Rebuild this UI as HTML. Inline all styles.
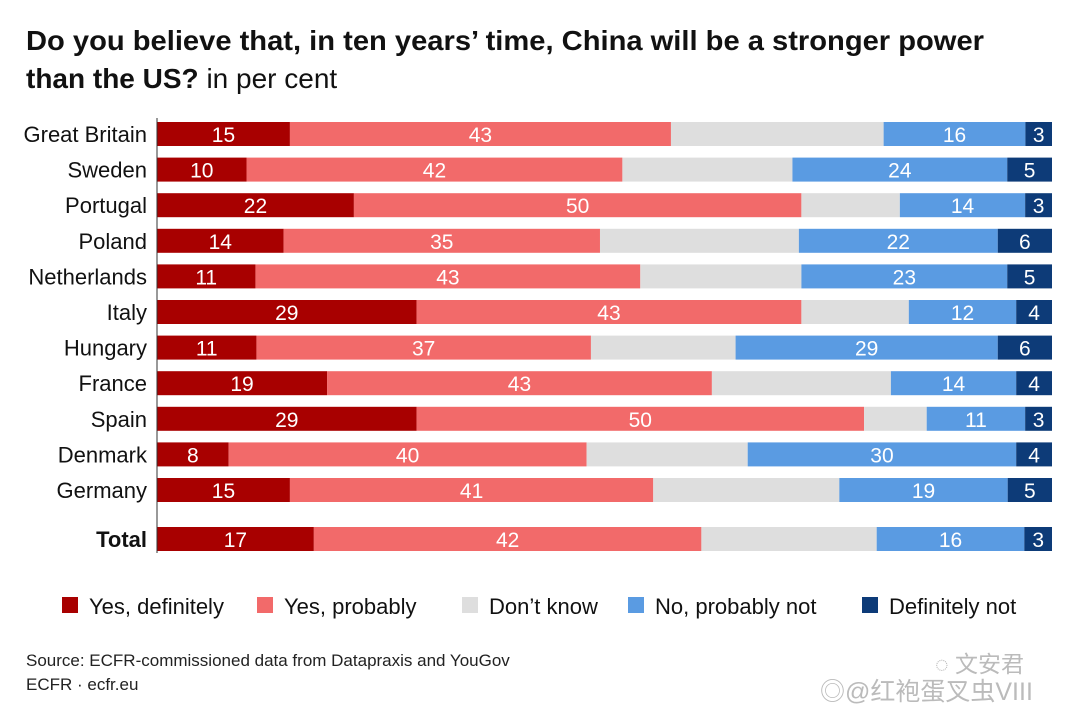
<!DOCTYPE html>
<html><head><meta charset="utf-8"><style>
body{margin:0;background:#fff;width:1080px;height:715px;overflow:hidden;font-family:"Liberation Sans",sans-serif}
svg text{font-family:"Liberation Sans","Noto Sans CJK SC",sans-serif}
</style></head><body>
<svg id="chart" width="1080" height="715" xmlns="http://www.w3.org/2000/svg">
<text x="26" y="50" font-size="28" font-weight="bold" fill="#111" textLength="958" lengthAdjust="spacingAndGlyphs">Do you believe that, in ten years’ time, China will be a stronger power</text>
<text x="26" y="88" font-size="28" fill="#111"><tspan font-weight="bold">than the US?</tspan> in per cent</text>
<g id="bars"></g>
<line x1="157" y1="118" x2="157" y2="553" stroke="#333" stroke-width="1"/>
<g id="legend"></g>
<text x="26" y="666" font-size="17" fill="#222">Source: ECFR-commissioned data from Datapraxis and YouGov</text>
<text x="26" y="690" font-size="17" fill="#222">ECFR · ecfr.eu</text>
<text x="820" y="700" font-size="25" fill="#bbb">◎@红袍蛋叉虫VIII</text>
<text x="935" y="672" font-size="23" fill="#bbb">◌ 文安君</text>
</svg>
<script>
const countries=["Great Britain","Sweden","Portugal","Poland","Netherlands","Italy","Hungary","France","Spain","Denmark","Germany","Total"];
const yesDef=[15,10,22,14,11,29,11,19,29,8,15,17];
const yesProb=[43,42,50,35,43,43,37,43,50,40,41,42];
const dontKnow=[24,19,11,22,18,12,16,20,7,18,21,19];
const noProb=[16,24,14,22,23,12,29,14,11,30,19,16];
const defNot=[3,5,3,6,5,4,6,4,3,4,5,3];
const seriesNames=["Yes, definitely","Yes, probably","Don’t know","No, probably not","Definitely not"];
const colors=["#a80000","#f26a6a","#dedede","#5a9be2","#0d3b78"];
const NS="http://www.w3.org/2000/svg";
const x0=157, x1=1052;
const rowY=i=> i<11 ? 122+i*35.6 : 527;
const bars=document.getElementById('bars');
const series=[yesDef,yesProb,dontKnow,noProb,defNot];
countries.forEach((c,i)=>{
  const tot=series.reduce((s,a)=>s+a[i],0);
  const sc=(x1-x0)/tot;
  const y=rowY(i);
  const lab=document.createElementNS(NS,'text');
  
  
  lab.setAttribute('x',147);lab.setAttribute('y',y+20);
  lab.setAttribute('text-anchor','end');lab.setAttribute('font-size','22');lab.setAttribute('fill','#111');
  if(c==="Total")lab.setAttribute('font-weight','bold');
  lab.textContent=c;bars.appendChild(lab);
  let cx=x0;
  series.forEach((arr,k)=>{
    const w=arr[i]*sc;
    const r=document.createElementNS(NS,'rect');
    
    
    r.setAttribute('x',cx);r.setAttribute('y',y);r.setAttribute('width',w);r.setAttribute('height',24);r.setAttribute('fill',colors[k]);
    bars.appendChild(r);
    if(k!==2){
      const t=document.createElementNS(NS,'text');
      
      
      t.setAttribute('x',cx+w/2);t.setAttribute('y',y+20);t.setAttribute('text-anchor','middle');
      t.setAttribute('font-size','21');t.setAttribute('fill','#fff');
      t.textContent=arr[i];bars.appendChild(t);
    }
    cx+=w;
  });
});
const legX=[62,257,462,628,862];
const leg=document.getElementById('legend');
seriesNames.forEach((n,k)=>{
  const r=document.createElementNS(NS,'rect');
  
  
  r.setAttribute('x',legX[k]);r.setAttribute('y',597);r.setAttribute('width',16);r.setAttribute('height',16);r.setAttribute('fill',colors[k]);
  leg.appendChild(r);
  const t=document.createElementNS(NS,'text');
  
  
  t.setAttribute('x',legX[k]+27);t.setAttribute('y',614);t.setAttribute('font-size','22');t.setAttribute('fill','#111');
  t.textContent=n;leg.appendChild(t);
});
</script>
</body></html>
